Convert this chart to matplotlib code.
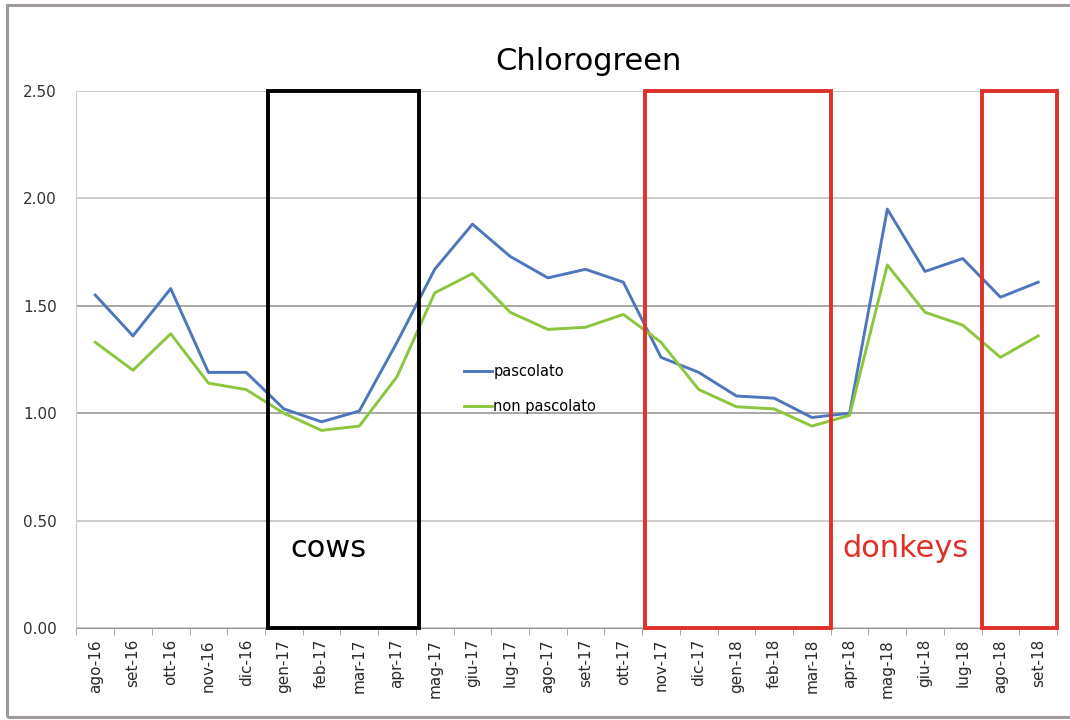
import numpy as np
import matplotlib.pyplot as plt
from matplotlib.patches import Rectangle

mesi = ["ago-16", "set-16", "ott-16", "nov-16", "dic-16", "gen-17", "feb-17", "mar-17",
        "apr-17", "mag-17", "giu-17", "lug-17", "ago-17", "set-17", "ott-17", "nov-17",
        "dic-17", "gen-18", "feb-18", "mar-18", "apr-18", "mag-18", "giu-18", "lug-18",
        "ago-18", "set-18"]

pascolato = [1.55, 1.36, 1.58, 1.19, 1.19, 1.02, 0.96, 1.01, 1.33, 1.67, 1.88, 1.73, 1.63,
             1.67, 1.61, 1.26, 1.19, 1.08, 1.07, 0.98, 1.00, 1.95, 1.66, 1.72, 1.54, 1.61]
non_pascolato = [1.33, 1.20, 1.37, 1.14, 1.11, 1.00, 0.92, 0.94, 1.17, 1.56, 1.65, 1.47, 1.39,
                 1.40, 1.46, 1.33, 1.11, 1.03, 1.02, 0.94, 0.99, 1.69, 1.47, 1.41, 1.26, 1.36]

# periodi di pascolo (inizio, fine in indici di mese), colore
periodi = [(4.58, 8.58, "black"), (14.58, 19.5, "#e0302a"), (23.5, 25.5, "#e0302a")]

fig = plt.figure(figsize=(10.7, 7.2), dpi=100)
ax = fig.add_axes([0.0714, 0.1278, 0.9165, 0.7458])

x = np.arange(len(mesi))
ax.plot(x, pascolato, color="#4f76bd", lw=2.1, label="pascolato", zorder=3)
ax.plot(x, non_pascolato, color="#8cc63f", lw=2.1, label="non pascolato", zorder=3)

for inizio, fine, col in periodi:
    ax.add_patch(Rectangle((inizio, 0), fine - inizio, 2.5, fill=False, ec=col, lw=2.8,
                           clip_on=False, zorder=4))

ax.text(6.17, 0.37, "cows", fontsize=22, color="black", ha="center", va="center")
ax.text(21.48, 0.37, "donkeys", fontsize=22, color="#e0302a", ha="center", va="center")

ax.set_xlim(-0.5, 25.5)
ax.set_ylim(0, 2.5)
yt = np.arange(0, 2.51, 0.5)
ax.set_yticks(yt)
ax.set_yticklabels([f"{v:.2f}" for v in yt], fontsize=11, color="#333333")
ax.set_xticks(x)
ax.set_xticklabels(mesi, rotation=90, fontsize=11, color="#2a2a2a")
ax.set_xticks(np.arange(-0.5, 25.6, 1), minor=True)
ax.tick_params(axis="x", which="major", length=0, pad=8)
ax.tick_params(axis="x", which="minor", length=5, color="#999999")
ax.tick_params(axis="y", length=0, pad=14)
ax.grid(axis="y", color="#c4c4c4", lw=1.2)
# le righe a 1.00 e 1.50 sono più scure nell'originale
for v, gl in zip(yt, ax.get_ygridlines()):
    if v in (1.0, 1.5):
        gl.set_color("#9a9a9a")
ax.set_axisbelow(True)
for s in ["top", "right"]:
    ax.spines[s].set_visible(False)
ax.spines["left"].set_color("#cccccc")
ax.spines["bottom"].set_color("#999999")

ax.legend(loc="center left", bbox_to_anchor=(0.388, 0.445), frameon=False, fontsize=10.5,
          handlelength=1.9, handletextpad=0.1, labelspacing=1.4, borderpad=0)

fig.text(0.5495, 0.914, "Chlorogreen", fontsize=22, ha="center", va="center")

# cornice esterna
fig.add_artist(Rectangle((7 / 1070, 3 / 720), 1.1, 712 / 720, transform=fig.transFigure,
                         fill=False, ec="#a09a9a", lw=2.2))

fig.savefig("out.png", dpi=100)
